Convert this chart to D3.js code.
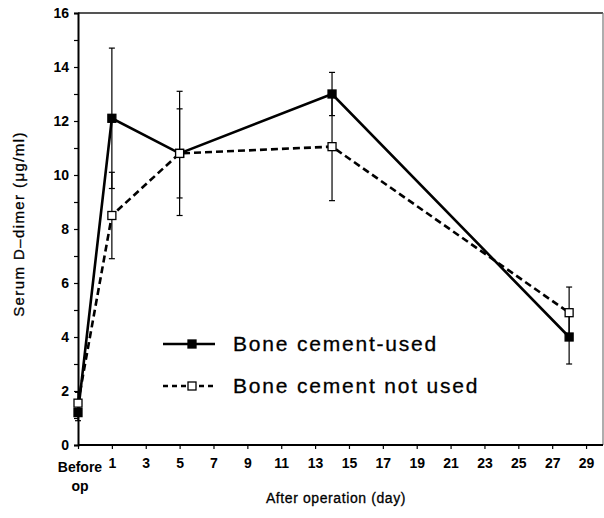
<!DOCTYPE html>
<html><head><meta charset="utf-8">
<script src="https://cdn.jsdelivr.net/npm/d3@7"></script>
<style>body{margin:0;background:#fff}svg{display:block}text{font-family:"Liberation Sans",Arial,sans-serif;fill:#000}</style>
</head><body><div id="c"></div>
<script>
const days = [-1, 1, 5, 14, 28];
const usedMean = [1.2, 12.1, 10.8, 13.0, 4.0];
const usedSD = [0.3, 2.6, 2.3, 0.8, 1.0];
const notUsedMean = [1.55, 8.5, 10.8, 11.05, 4.9];
const notUsedSD = [0.4, 1.6, 1.65, 2.0, 0.95];
const xTickVals = [-1, 1, 3, 5, 7, 9, 11, 13, 15, 17, 19, 21, 23, 25, 27, 29];
const yTickVals = [0, 2, 4, 6, 8, 10, 12, 14, 16];
const seriesNames = ["Bone cement-used", "Bone cement not used"];

const W = 604, H = 518;
const L = 78, R = 603, T = 13, B = 445;
const svg = d3.select("#c").append("svg").attr("width", W).attr("height", H);
const x = d3.scaleLinear().domain([-1, 30]).range([L, R]);
const y = d3.scaleLinear().domain([0, 16]).range([B, T]);

// frame top and right
svg.append("line").attr("x1", L).attr("x2", R).attr("y1", T).attr("y2", T).attr("stroke", "#555").attr("stroke-width", 2);
svg.append("line").attr("x1", R).attr("x2", R).attr("y1", T).attr("y2", B).attr("stroke", "#777").attr("stroke-width", 1.2);

// y axis
const yAxis = d3.axisLeft(y).tickValues(d3.range(0, 17, 1)).tickSize(4).tickFormat(d => yTickVals.includes(d) ? d : "");
const gy = svg.append("g").attr("transform", `translate(${L},0)`).call(yAxis);
gy.select(".domain").attr("stroke", "#000").attr("stroke-width", 2);
gy.selectAll(".tick line").attr("stroke", "#000").attr("stroke-width", 1.2);
gy.selectAll(".tick text").attr("x", -9).attr("font-size", 14).attr("font-weight", "bold").attr("fill", "#000");

// x axis
const xAxis = d3.axisBottom(x).tickValues(xTickVals).tickSize(4).tickFormat(d => d === -1 ? "" : d);
const gx = svg.append("g").attr("transform", `translate(0,${B})`).call(xAxis);
gx.select(".domain").attr("stroke", "#000").attr("stroke-width", 2).attr("d", `M${L},0H${R}`);
gx.selectAll(".tick line").attr("stroke", "#000").attr("stroke-width", 1.2);
gx.selectAll(".tick text").attr("y", 13).attr("font-size", 14).attr("font-weight", "bold").attr("fill", "#000");
svg.append("text").attr("x", x(-1) + 2).attr("y", B + 27).attr("text-anchor", "middle").attr("font-size", 14).attr("font-weight", "bold").text("Before");
svg.append("text").attr("x", x(-1) + 2).attr("y", B + 46).attr("text-anchor", "middle").attr("font-size", 14).attr("font-weight", "bold").text("op");

// titles
svg.append("text").attr("x", 336).attr("y", 503).attr("text-anchor", "middle").attr("font-size", 14).attr("letter-spacing", 0.6)
  .attr("stroke", "#000").attr("stroke-width", 0.3).text("After operation (day)");
svg.append("text").attr("transform", `translate(24,${224}) rotate(-90)`).attr("text-anchor", "middle").attr("font-size", 15).attr("letter-spacing", 1.4)
  .attr("stroke", "#000").attr("stroke-width", 0.3).text("Serum D\u2013dimer (\u03bcg/ml)");

const series = [
  {mean: usedMean, sd: usedSD, dash: null, fill: "#000"},
  {mean: notUsedMean, sd: notUsedSD, dash: "7,4", fill: "#fff"}
];

// error bars
series.forEach(s => {
  const g = svg.append("g");
  days.forEach((d, i) => {
    const cx = x(d), lo = y(s.mean[i] - s.sd[i]), hi = y(s.mean[i] + s.sd[i]);
    g.append("line").attr("x1", cx).attr("x2", cx).attr("y1", lo).attr("y2", hi).attr("stroke", "#000").attr("stroke-width", 1.2);
    [lo, hi].forEach(yy => g.append("line").attr("x1", cx - 3).attr("x2", cx + 3).attr("y1", yy).attr("y2", yy).attr("stroke", "#000").attr("stroke-width", 1.2));
  });
});

// lines
const line = d3.line().x((d, i) => x(days[i])).y(d => y(d));
series.slice().reverse().forEach(s => {
  svg.append("path").attr("d", line(s.mean)).attr("fill", "none").attr("stroke", "#000").attr("stroke-width", 2.6)
    .attr("stroke-dasharray", s.dash);
});

// markers
series.forEach(s => {
  svg.selectAll(null).data(s.mean).enter().append("rect")
    .attr("x", (d, i) => x(days[i]) - 4).attr("y", d => y(d) - 4).attr("width", 8).attr("height", 8)
    .attr("fill", s.fill).attr("stroke", "#000").attr("stroke-width", 1.3);
});

// legend
const leg = [{y: 344, s: series[0], name: seriesNames[0]}, {y: 386, s: series[1], name: seriesNames[1]}];
leg.forEach(l => {
  svg.append("line").attr("x1", 163).attr("x2", 215).attr("y1", l.y).attr("y2", l.y).attr("stroke", "#000").attr("stroke-width", 2.4).attr("stroke-dasharray", l.s.dash ? "5,4" : null);
  svg.append("rect").attr("x", 188).attr("y", l.y - 4).attr("width", 8).attr("height", 8).attr("fill", l.s.fill).attr("stroke", "#000").attr("stroke-width", 1.3);
  svg.append("text").attr("x", 233).attr("y", l.y + 7).attr("font-size", 21).attr("letter-spacing", 1.8)
    .attr("stroke", "#000").attr("stroke-width", 0.3).text(l.name);
});
</script></body></html>
